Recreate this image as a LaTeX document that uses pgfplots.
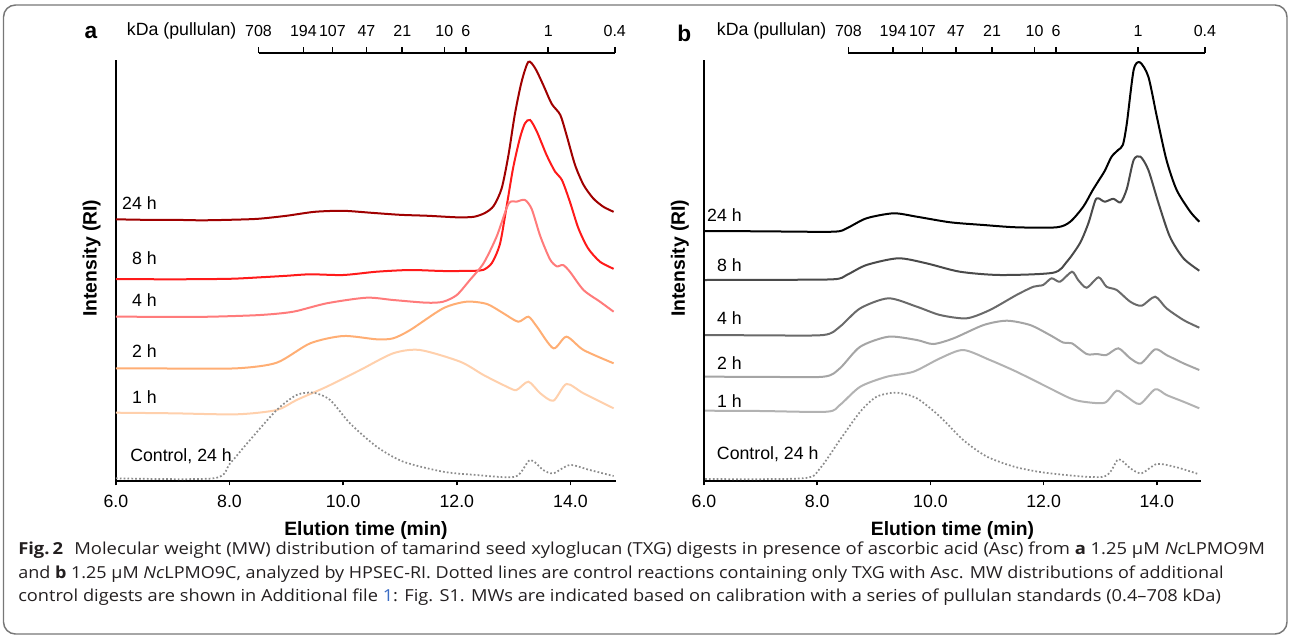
\documentclass[border=0pt]{standalone}
\usepackage{pgfplots}
\pgfplotsset{compat=1.18}
\usepackage{fontspec}
\setmainfont{Liberation Sans}
\newfontfamily\capfont{Open Sans}
\usepackage{graphicx}

\definecolor{c24}{HTML}{A00000}
\definecolor{c8}{HTML}{FF1A1A}
\definecolor{c4}{HTML}{FF7B7B}
\definecolor{c2}{HTML}{FFAE74}
\definecolor{c1}{HTML}{FFD0AC}
\definecolor{cctl}{HTML}{8C8C8C}
\definecolor{g24}{HTML}{000000}
\definecolor{g8}{HTML}{4A4A4A}
\definecolor{g4}{HTML}{6A6A6A}
\definecolor{g2}{HTML}{A5A5A5}
\definecolor{g1}{HTML}{B2B2B2}
\definecolor{linkblue}{HTML}{3B6CC4}
\definecolor{boxgray}{HTML}{777777}
\definecolor{captext}{HTML}{231F20}

\newcommand\lblfont{\fontsize{13.3pt}{15pt}\selectfont}
\newcommand\kdafont{\fontsize{12pt}{15pt}\selectfont}
% kDa tick: position, label
\newcommand\kda[2]{%
  \draw[line width=1.2pt] (axis cs:#1,427.8) -- (axis cs:#1,434);
  \node[font=\kdafont, inner sep=0] at (axis cs:#1,449.8) {#2};}

\pgfplotsset{
  panel/.style={
    scale only axis,
    height=315.6pt,
    xmin=6, ymin=0, ymax=420.8,
    axis x line*=bottom, axis y line*=left,
    axis line style={line width=1.5pt, black},
    ytick=\empty,
    xtick={6,8,10,12,14},
    xticklabels={6.0,8.0,10.0,12.0,14.0},
    xtick style={line width=1.2pt, black},
    tick align=outside, major tick length=3.5pt,
    xticklabel style={font=\lblfont, yshift=-4pt},
    xlabel={Elution time (min)},
    xlabel style={font=\bfseries\fontsize{14.5pt}{16pt}\selectfont,
      at={(axis description cs:0.5,0)}, anchor=center, yshift=-37pt},
    ylabel={Intensity (RI)},
    ylabel style={font=\bfseries\fontsize{14.5pt}{16pt}\selectfont, anchor=center},
    clip=false,
    every axis plot/.append style={line width=1.5pt, no markers, smooth, tension=0.45},
  },
  ctl/.style={cctl, line width=1.3pt, dash pattern=on 1.3pt off 1.6pt},
}

\begin{document}
\begin{tikzpicture}

%================ panel a
\begin{axis}[panel, at={(86.925pt,-360.6pt)}, anchor=south west, width=375pt, xmax=14.8,
  ylabel style={at={(axis description cs:-0.0484,0.529)}}]
\addplot[c24] table {
6.00 261.5
6.50 261
7.00 261
7.50 260.5
8.00 261
8.50 262
9.00 265
9.50 269
10.00 270
10.50 268
11.00 266
11.50 265
12.00 263.5
12.30 264
12.50 268
12.65 275
12.79 292.5
12.91 326
13.02 366
13.14 399
13.26 419
13.38 412.5
13.52 396
13.67 377
13.82 366
13.93 346
14.08 316
14.23 296
14.40 282.5
14.58 274
14.76 269
};
\addplot[c8] table {
6.00 201.8
7.00 201.5
8.00 202
8.54 203.5
9.00 205
9.42 206.5
10.00 205.8
10.59 209.1
11.18 210.8
11.76 209.8
12.29 210
12.47 211
12.62 218
12.76 237
12.87 272
12.99 312.5
13.11 342.5
13.20 357.5
13.29 360.8
13.41 349.1
13.58 325.8
13.73 309.1
13.85 300.8
13.99 279.1
14.14 252.5
14.31 232.5
14.52 219.1
14.76 212
};
\addplot[c4] table {
6.00 164.1
7.00 164
7.66 164.1
8.54 165.8
9.12 169.1
9.71 177.5
10.41 183.1
10.88 180.8
11.47 178.1
11.76 179.1
12.00 185.8
12.23 200.8
12.47 217.5
12.70 244.1
12.91 277
13.05 279.1
13.20 280.8
13.32 271.5
13.47 244.5
13.64 221.5
13.76 214.5
13.87 215.8
13.99 209.1
14.23 190.8
14.52 179.1
14.76 169.1
};
\addplot[c2] table {
6.00 112.5
7.00 112.3
8.13 112.5
8.83 118.1
9.42 137.5
10.00 144.8
10.59 141.5
10.88 142.5
11.18 150.8
11.76 172.5
12.17 179.1
12.53 176.8
12.82 167.5
13.08 159.1
13.26 164.1
13.41 154.1
13.70 132.5
13.93 144.1
14.23 130.8
14.76 117.5
};
\addplot[c1] table {
6.00 68.1
7.00 67.5
8.13 66.5
8.83 70.8
9.18 80.8
9.71 94.1
10.30 110.8
10.88 127.5
11.35 130.8
12.06 119.1
12.47 105.8
12.88 94.1
13.05 90.8
13.26 99.1
13.47 87.5
13.70 80.1
13.93 96.8
14.23 87.5
14.76 72.5
};
\addplot[ctl] table {
6.00 2.5
7.72 2.5
8.01 17.5
8.36 40.8
8.83 70.8
9.18 85.8
9.48 88.1
9.77 80.8
10.12 57.5
10.59 34.1
11.06 19.1
11.76 9.1
12.35 5.8
13.03 4.1
13.29 20.8
13.52 10.8
13.70 7.5
13.99 15.8
14.34 10.8
14.76 4.8
};
% curve labels
\node[anchor=east, inner sep=0, font=\lblfont] at (axis cs:6.723,277.8) {24 h};
\node[anchor=east, inner sep=0, font=\lblfont] at (axis cs:6.723,222.5) {8 h};
\node[anchor=east, inner sep=0, font=\lblfont] at (axis cs:6.723,180.8) {4 h};
\node[anchor=east, inner sep=0, font=\lblfont] at (axis cs:6.723,130.1) {2 h};
\node[anchor=east, inner sep=0, font=\lblfont] at (axis cs:6.723,84.1) {1 h};
\node[anchor=west, inner sep=0, font=\lblfont] at (axis cs:6.248,24.8) {Control, 24 h};
% kDa scale
\draw[line width=1.2pt] (axis cs:8.51,427.8) -- (axis cs:14.78,427.8);
\kda{8.51}{708}
\kda{9.30}{194}
\kda{9.81}{107}
\kda{10.41}{47}
\kda{11.04}{21}
\kda{11.78}{10}
\kda{12.16}{6}
\kda{13.61}{1}
\kda{14.78}{0.4}
\node[anchor=west, font=\lblfont, inner sep=0] at (axis cs:6.19,449.8) {kDa (pullulan)};
\node[font=\bfseries\fontsize{17pt}{19pt}\selectfont, inner sep=0] at (axis cs:5.56,447.8) {a};
\end{axis}

%================ panel b
\begin{axis}[panel, at={(528pt,-360.6pt)}, anchor=south west, width=372.75pt, xmax=14.78,
  ylabel style={at={(axis description cs:-0.0487,0.529)}}]
\addplot[g24] table {
6.02 249.8
7.00 249.5
8.28 249.1
8.52 252.5
8.87 262.5
9.35 267.5
9.76 264.1
10.35 258.5
10.94 255.8
11.52 253.5
12.23 253.5
12.47 259.1
12.70 274.1
12.86 290
12.97 300
13.08 310
13.20 324.1
13.32 331
13.40 336
13.47 357.5
13.59 410.8
13.70 418.5
13.85 404.1
14.00 364.1
14.17 320.8
14.35 290.8
14.59 269.1
14.75 259.1
};
\addplot[g8] table {
6.02 200.8
7.00 201
8.28 201.5
8.52 205.8
8.87 215.8
9.43 222.5
9.93 217.5
10.52 209.1
11.23 205.8
12.17 208.1
12.41 219.1
12.64 237.5
12.79 257.5
12.91 280
12.97 282.5
13.08 279.1
13.23 282
13.36 278.5
13.47 292
13.59 320.8
13.71 324.1
13.85 310.8
14.03 277.5
14.23 244.1
14.47 222.5
14.75 210.1
};
\addplot[g4] table {
6.02 145.8
7.00 145.5
8.11 145.8
8.40 154.1
8.76 172.5
9.26 182.5
9.76 174.1
10.17 165.8
10.64 162.5
11.05 170.8
11.52 185.8
11.82 194.1
11.99 195.8
12.14 202.5
12.29 199.1
12.50 209.1
12.61 200.8
12.76 193.1
12.97 203.5
13.11 194.1
13.29 190.8
13.53 179.1
13.73 175.1
13.97 184.1
14.17 172.5
14.47 160.8
14.75 153.1
};
\addplot[g2] table {
6.02 104.1
7.00 104
8.11 104.1
8.40 112.5
8.76 134.1
9.26 144.1
9.76 140.8
10.05 136.8
10.41 142.5
10.94 155.8
11.35 160.1
11.76 155.8
12.11 145.8
12.35 138.1
12.50 137.5
12.76 126.8
12.94 126.8
13.11 125.8
13.32 132.5
13.53 122.5
13.72 117.5
13.97 131.5
14.17 125.8
14.47 117.5
14.75 110.8
};
\addplot[g1] table {
6.02 70.1
7.00 69.8
8.17 69.1
8.40 75.8
8.76 94.1
9.23 104.1
9.70 109.1
10.17 122.5
10.58 130.8
11.05 120.8
11.52 109.1
12.11 92.5
12.47 82.5
12.70 79.1
13.08 78.1
13.29 90.1
13.47 84.1
13.70 76.8
13.97 91.5
14.17 85.8
14.47 79.1
14.75 72.5
};
\addplot[ctl] table {
6.02 1.8
7.75 2.5
8.05 12.5
8.40 40.8
8.76 69.1
9.05 84.1
9.40 88.1
9.76 82.5
10.17 64.1
10.58 40.8
11.00 24.1
11.52 13.5
12.11 7.5
13.06 4.1
13.32 21.5
13.53 12.5
13.73 7.5
14.00 16.8
14.35 13.5
14.73 6.8
};
\node[anchor=east, inner sep=0, font=\lblfont] at (axis cs:6.671,265.8) {24 h};
\node[anchor=east, inner sep=0, font=\lblfont] at (axis cs:6.671,215.8) {8 h};
\node[anchor=east, inner sep=0, font=\lblfont] at (axis cs:6.671,162.5) {4 h};
\node[anchor=east, inner sep=0, font=\lblfont] at (axis cs:6.671,117.5) {2 h};
\node[anchor=east, inner sep=0, font=\lblfont] at (axis cs:6.671,80.1) {1 h};
\node[anchor=west, inner sep=0, font=\lblfont] at (axis cs:6.224,26.8) {Control, 24 h};
\draw[line width=1.2pt] (axis cs:8.55,427.8) -- (axis cs:14.85,427.8);
\kda{8.55}{708}
\kda{9.34}{194}
\kda{9.86}{107}
\kda{10.45}{47}
\kda{11.09}{21}
\kda{11.84}{10}
\kda{12.22}{6}
\kda{13.67}{1}
\kda{14.85}{0.4}
\node[anchor=west, font=\lblfont, inner sep=0] at (axis cs:6.224,449.8) {kDa (pullulan)};
\node[font=\bfseries\fontsize{17pt}{19pt}\selectfont, inner sep=0] at (axis cs:5.65,447.8) {b};
\end{axis}

%================ frame and caption
\begin{scope}[x=0.75pt, y=-0.75pt]
\draw[boxgray, line width=1.1pt, rounded corners=9pt] (3.5,5) rectangle (1287,634);
\node[anchor=base west, inner sep=0, text=captext] at (18,554.5) {\resizebox{935pt}{\height}{\capfont\fontsize{12.4pt}{15pt}\selectfont\textbf{Fig.\,2}\hspace{0.6em}Molecular weight (MW) distribution of tamarind seed xyloglucan (TXG) digests in presence of ascorbic acid (Asc) from \textbf{a} 1.25 µM \textit{Nc}LPMO9M}};
\node[anchor=base west, inner sep=0, text=captext] at (18,578.3) {\resizebox{904pt}{\height}{\capfont\fontsize{12.4pt}{15pt}\selectfont and \textbf{b} 1.25 µM \textit{Nc}LPMO9C, analyzed by HPSEC-RI. Dotted lines are control reactions containing only TXG with Asc. MW distributions of additional}};
\node[anchor=base west, inner sep=0, text=captext] at (18,601.7) {\resizebox{902pt}{\height}{\capfont\fontsize{12.4pt}{15pt}\selectfont control digests are shown in Additional file \textcolor{linkblue}{1}: Fig. S1. MWs are indicated based on calibration with a series of pullulan standards (0.4–708 kDa)}};
\end{scope}

\pgfresetboundingbox
\path[use as bounding box] (0pt,0pt) rectangle (967.5pt,-477pt);
\end{tikzpicture}
\end{document}
